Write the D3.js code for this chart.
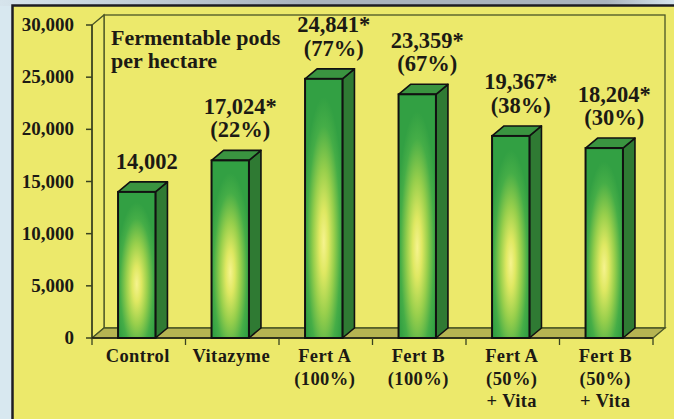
<!DOCTYPE html>
<html><head><meta charset="utf-8">
<script src="https://cdn.jsdelivr.net/npm/d3@7"></script>
<style>
html,body{margin:0;padding:0;background:#d8e8f0;}
svg{display:block;}
text{font-family:"Liberation Serif","Times New Roman",serif;font-weight:bold;fill:#1c1a14;}
</style></head>
<body>
<svg id="chart" width="674" height="419"></svg>
<script>
// ---- data ----
const categories = ["Control","Vitazyme","Fert A (100%)","Fert B (100%)","Fert A (50%) + Vita","Fert B (50%) + Vita"];
const categoryLines = [["Control"],["Vitazyme"],["Fert A","(100%)"],["Fert B","(100%)"],["Fert A","(50%)","+ Vita"],["Fert B","(50%)","+ Vita"]];
const values = [14002, 17024, 24841, 23359, 19367, 18204];
const valueLabels = [["14,002"],["17,024*","(22%)"],["24,841*","(77%)"],["23,359*","(67%)"],["19,367*","(38%)"],["18,204*","(30%)"]];
const yTicks = [0,5000,10000,15000,20000,25000,30000];
const titleLines = ["Fermentable pods","per hectare"];

// ---- layout ----
const W = 674, H = 419;
const svg = d3.select("#chart");
const DX = 12, DY = -10;
const x0 = 92, x1 = 653, yBase = 338, yTop = 25;

const x = d3.scaleBand().domain(categories).range([x0, x1]).paddingInner(0.6).paddingOuter(0.3);
const y = d3.scaleLinear().domain([0, 30000]).range([yBase, yTop]);

const defs = svg.append("defs");
const topGrad = defs.append("linearGradient").attr("id","topg").attr("x1",0).attr("x2",1).attr("y1",0).attr("y2",0);
topGrad.append("stop").attr("offset",0).attr("stop-color","#d6e4ec");
topGrad.append("stop").attr("offset",0.45).attr("stop-color","#a9b3bd");
topGrad.append("stop").attr("offset",0.9).attr("stop-color","#a9b3bd");
topGrad.append("stop").attr("offset",1).attr("stop-color","#d6e4ec");

const rg = defs.append("radialGradient").attr("id","barg")
  .attr("cx",0.5).attr("cy",0.63).attr("r",0.56).attr("fx",0.5).attr("fy",0.63);
[[0,"#f6f38e"],[0.22,"#dfe862"],[0.5,"#98cf4c"],[0.8,"#45ad47"],[1,"#32a043"]]
  .forEach(([o,c]) => rg.append("stop").attr("offset",o).attr("stop-color",c));

// background
svg.append("rect").attr("width",W).attr("height",H).attr("fill","#d8e8f0");
svg.append("rect").attr("x",0).attr("y",0).attr("width",W).attr("height",6).attr("fill","url(#topg)");
svg.append("rect").attr("x",12.5).attr("y",5.5).attr("width",W).attr("height",H)
  .attr("fill","#ece96b").attr("stroke","#1e1e24").attr("stroke-width",2.5);

const lineCol = "#4a5526";
// back wall
svg.append("rect").attr("x", x0 + DX).attr("y", yTop + DY).attr("width", x1 - x0).attr("height", yBase - yTop)
  .attr("fill","#ece96b").attr("stroke",lineCol).attr("stroke-width",1.3);
// left wall
svg.append("path").attr("d", `M${x0},${yBase}L${x0+DX},${yBase+DY}L${x0+DX},${yTop+DY}L${x0},${yTop}Z`)
  .attr("fill","#ece96b").attr("stroke",lineCol).attr("stroke-width",1.3);
// floor
svg.append("path").attr("d", `M${x0},${yBase}L${x1},${yBase}L${x1+DX},${yBase+DY}L${x0+DX},${yBase+DY}Z`)
  .attr("fill","#b6b452").attr("stroke",lineCol).attr("stroke-width",1.3);

// y axis line + ticks
svg.append("line").attr("x1",x0).attr("x2",x0).attr("y1",yTop).attr("y2",yBase)
  .attr("stroke","#3a4220").attr("stroke-width",1.5);
const yt = svg.append("g");
yTicks.forEach(t => {
  yt.append("line").attr("x1",x0-6).attr("x2",x0).attr("y1",y(t)).attr("y2",y(t))
    .attr("stroke","#3a4220").attr("stroke-width",1.5);
  yt.append("text").attr("x",74).attr("y",y(t)+6).attr("text-anchor","end")
    .attr("font-size",19).text(d3.format(",")(t));
});

// x axis ticks at category boundaries
svg.append("line").attr("x1",x0).attr("x2",x1).attr("y1",yBase).attr("y2",yBase)
  .attr("stroke","#1e1e14").attr("stroke-width",1.5);
const bounds = d3.range(categories.length + 1).map(i => x0 + i * (x1 - x0) / categories.length);
bounds.forEach(b => {
  svg.append("line").attr("x1",b).attr("x2",b).attr("y1",yBase).attr("y2",yBase+7)
    .attr("stroke","#3a4220").attr("stroke-width",1.3);
});

// bars
const bw = x.bandwidth();
const bars = svg.append("g");
categories.forEach((c, i) => {
  const bx = x(c) - 2, by = y(values[i]), bh = yBase - by;
  const g = bars.append("g");
  // side face
  g.append("path").attr("d", `M${bx+bw},${by}L${bx+bw+DX},${by+DY}L${bx+bw+DX},${yBase+DY}L${bx+bw},${yBase}Z`)
    .attr("fill","#2f7a33").attr("stroke","#111").attr("stroke-width",1.6).attr("stroke-linejoin","round");
  // top face
  g.append("path").attr("d", `M${bx},${by}L${bx+DX},${by+DY}L${bx+bw+DX},${by+DY}L${bx+bw},${by}Z`)
    .attr("fill","#3a9440").attr("stroke","#111").attr("stroke-width",1.6).attr("stroke-linejoin","round");
  // front face
  g.append("rect").attr("x",bx).attr("y",by).attr("width",bw).attr("height",bh)
    .attr("fill","url(#barg)").attr("stroke","#111").attr("stroke-width",2);

  // value label
  const lines = valueLabels[i];
  const cx = bx + bw / 2 + 10;
  const lastBase = by + DY - 13;
  lines.forEach((ln, j) => {
    svg.append("text").attr("x",cx).attr("y", lastBase - (lines.length - 1 - j) * 23.5)
      .attr("text-anchor","middle").attr("font-size",22.5).text(ln);
  });

  // category label
  categoryLines[i].forEach((ln, j) => {
    svg.append("text").attr("x", x(c) + bw/2 - 1).attr("y", 362 + j * 22.5)
      .attr("text-anchor","middle").attr("font-size",18.5).attr("letter-spacing",0.4).text(ln);
  });
});

// title
titleLines.forEach((t, j) => {
  svg.append("text").attr("x",111).attr("y",45 + j*23).attr("font-size",22).text(t);
});
</script>
</body></html>
